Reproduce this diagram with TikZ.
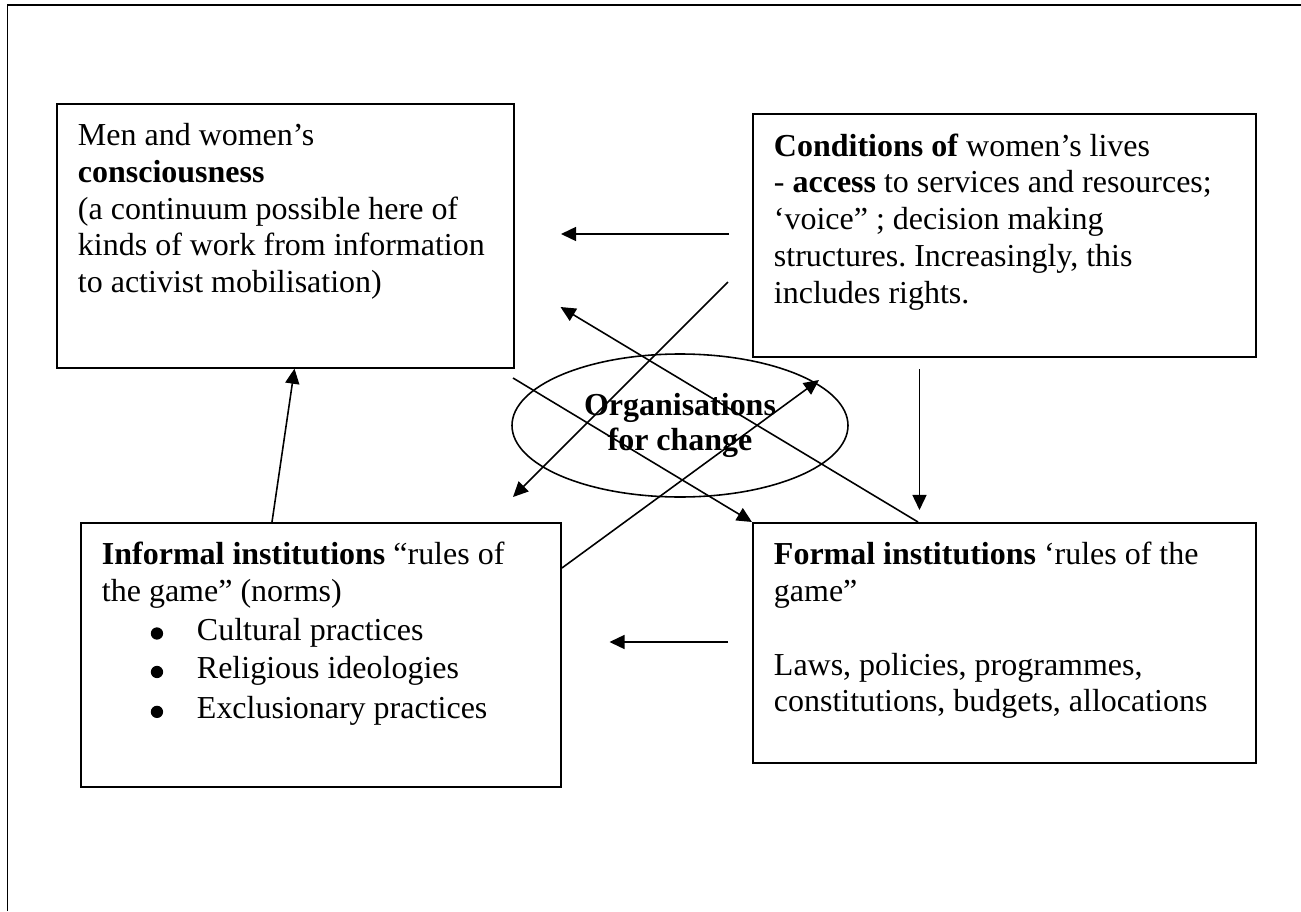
\documentclass[tikz,border=0pt]{standalone}
\usepackage{fontspec}
\setmainfont{Liberation Serif}
\usetikzlibrary{arrows.meta, shapes.geometric}

\newcommand{\dotmark}{\tikz[baseline]\fill (0,1.9pt) circle (1.75pt);}

\begin{document}
\frenchspacing
\begin{tikzpicture}[>={Triangle[length=4.3pt, width=4pt]},
  font=\fontsize{9.1pt}{10.45pt}\selectfont,
  panel/.style={draw, line width=0.55pt, anchor=north west, align=flush left,
    inner xsep=0.21cm, inner ysep=0.18cm, text height=0.24cm},
  link/.style={->, line width=0.45pt}]
  \useasboundingbox (0,0) rectangle (13.01,9.11);
  \draw[line width=0.5pt] (0.075,0) -- (0.075,9.058) -- (13.01,9.058);

  % the four boxes
  \node[panel, text width=4.15cm, text depth=2.04cm] (men) at (0.56,8.083)
    {Men and women’s\\ \textbf{consciousness}\\ (a continuum possible here of\\
     kinds of work from information\\ to activist mobilisation)};
  \node[panel, text width=4.61cm, text depth=1.83cm] (cond) at (7.52,7.977)
    {\textbf{Conditions of} women’s lives\\ - \textbf{access} to services and resources;\\
     ‘voice” ; decision making\\ structures. Increasingly, this\\ includes rights.};
  \node[panel, text width=4.38cm, text depth=2.04cm] (inf) at (0.80,3.89)
    {\textbf{Informal institutions} “rules of\\ the game” (norms)\\[0.5pt]
     \hspace*{0.55cm}\makebox[0cm]{\dotmark}\hspace*{0.40cm}Cultural practices\\[0.5pt]
     \hspace*{0.55cm}\makebox[0cm]{\dotmark}\hspace*{0.40cm}Religious ideologies\\[0.9pt]
     \hspace*{0.55cm}\makebox[0cm]{\dotmark}\hspace*{0.40cm}Exclusionary practices};
  \node[panel, text width=4.61cm, text depth=1.80cm] (form) at (7.52,3.89)
    {\textbf{Formal institutions} ‘rules of the\\ game”\\[10.45pt]
     Laws, policies, programmes,\\ constitutions, budgets, allocations};
  \node[draw, ellipse, line width=0.45pt, minimum width=3.36cm, minimum height=1.43cm,
    align=center, font=\fontsize{9.1pt}{9.95pt}\selectfont\bfseries] (org) at (6.80,4.855)
    {Organisations\\for change};

  % loose ends of the arrows
  \coordinate (h1a) at (7.29,6.77);
  \coordinate (h1b) at (5.61,6.77);
  \coordinate (d1a) at (7.28,6.29);
  \coordinate (d1b) at (5.13,4.14);
  \coordinate (d2b) at (8.19,5.31);
  \coordinate (d3b) at (5.605,6.04);
  \coordinate (d4a) at (5.13,5.33);
  \coordinate (h2a) at (7.28,2.69);
  \coordinate (h2b) at (6.095,2.69);

  \draw[link] (h1a) -- (h1b);
  \draw[link] (d1a) -- (d1b);
  \draw[link] ([yshift=-0.46cm]inf.north east) -- (d2b);
  \draw[link] ([xshift=1.66cm]form.north west) -- (d3b);
  \draw[link] (d4a) -- (form.north west);
  \draw[link] ([xshift=1.675cm,yshift=-0.11cm]cond.south west) -- ([xshift=1.675cm,yshift=0.12cm]form.north west);
  \draw[link] (h2a) -- (h2b);
  \draw[link] ([xshift=1.92cm]inf.north west) -- ([xshift=2.385cm]men.south west);
\end{tikzpicture}
\end{document}
